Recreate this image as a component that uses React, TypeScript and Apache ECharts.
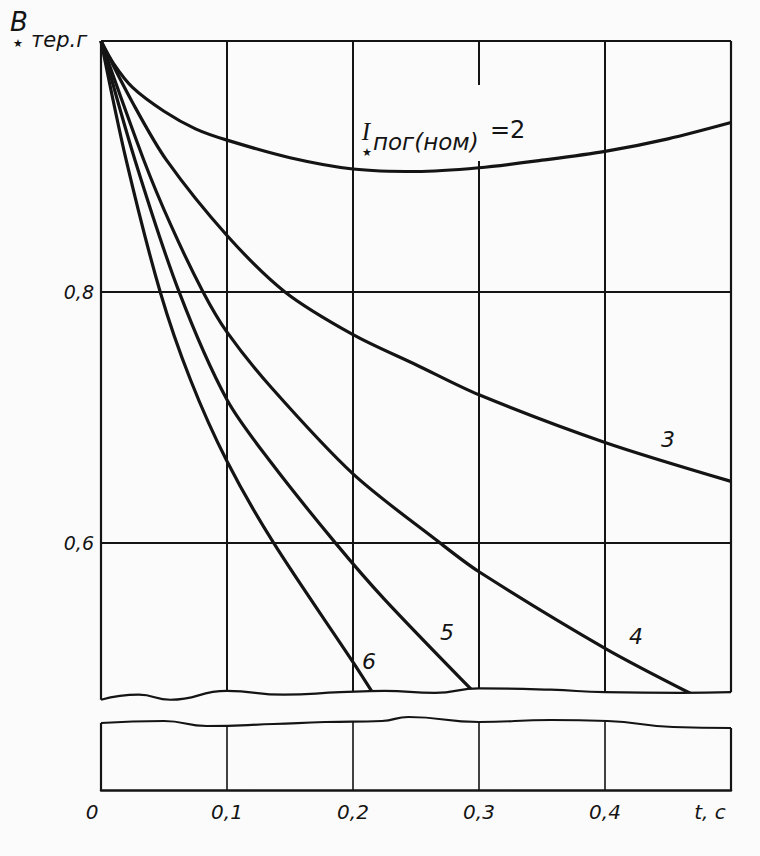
import React, { useEffect, useRef } from "react";
import * as echarts from "echarts";

const BG = "#fbfbfb";
const INK = "#141414";
const FONT = "DejaVu Sans";

// Axis ticks and labels
const X_MIN = 0;
const X_MAX = 0.5;
const X_STEP = 0.1;
const X_TICKS = [0, 0.1, 0.2, 0.3, 0.4, 0.5];
const X_LABELS = ["0", "0,1", "0,2", "0,3", "0,4", "t, c"];
const Y_TICKS = [0.6, 0.8];
const Y_LABELS = ["0,6", "0,8"];
const H_GRID = [0.6, 0.8, 1.0];
const Y_UP_MIN = 0.47;
const Y_UP_MAX = 1.0;
const Y_LOW_MIN = 0;
const Y_LOW_MAX = 0.06;

// Curve 2 : I*пог(ном) = 2
const t2 = [0, 0.01, 0.025, 0.05, 0.075, 0.1, 0.15, 0.2, 0.25, 0.3, 0.35, 0.4, 0.45, 0.5];
const b2 = [1.0, 0.982, 0.963, 0.944, 0.93, 0.921, 0.907, 0.898, 0.896, 0.899, 0.905, 0.912, 0.922, 0.935];
// Curve 3
const t3 = [0, 0.025, 0.052, 0.1, 0.146, 0.2, 0.25, 0.3, 0.4, 0.5];
const b3 = [1.0, 0.951, 0.905, 0.845, 0.8, 0.766, 0.742, 0.718, 0.68, 0.649];
// Curve 4
const t4 = [0, 0.034, 0.056, 0.081, 0.1, 0.135, 0.2, 0.269, 0.3, 0.4, 0.468];
const b4 = [1.0, 0.905, 0.852, 0.8, 0.768, 0.724, 0.655, 0.6, 0.577, 0.516, 0.48];
// Curve 5
const t5 = [0, 0.027, 0.062, 0.1, 0.135, 0.186, 0.225, 0.297];
const b5 = [1.0, 0.905, 0.8, 0.714, 0.664, 0.6, 0.555, 0.48];
// Curve 6
const t6 = [0, 0.02, 0.047, 0.071, 0.1, 0.137, 0.2, 0.216];
const b6 = [1.0, 0.905, 0.8, 0.73, 0.665, 0.6, 0.505, 0.48];

// Break lines (wavy edges of the axis break)
const waveUpT = [0, 0.03, 0.055, 0.1, 0.145, 0.19, 0.225, 0.265, 0.3, 0.357, 0.4, 0.46, 0.5];
const waveUpB = [0.475, 0.479, 0.475, 0.482, 0.479, 0.481, 0.482, 0.4805, 0.484, 0.483, 0.481, 0.4805, 0.481];
const waveLowT = [0, 0.05, 0.084, 0.137, 0.178, 0.223, 0.244, 0.3, 0.357, 0.402, 0.454, 0.5];
const waveLowB = [0.0536, 0.0552, 0.0512, 0.0528, 0.0544, 0.0552, 0.0584, 0.0544, 0.056, 0.0552, 0.0504, 0.0496];

const CURVES = [
  { name: "2", t: t2, b: b2 },
  { name: "3", t: t3, b: b3 },
  { name: "4", t: t4, b: b4 },
  { name: "5", t: t5, b: b5 },
  { name: "6", t: t6, b: b6 },
];

const pairs = (t: number[], b: number[]) => t.map((x, i) => [x, b[i]]);
const last = (a: number[]) => a[a.length - 1];

const labelStyle = (size: number) => ({
  fontFamily: FONT,
  fontStyle: "italic" as const,
  fontSize: size,
  color: INK,
});

const borderSeries = (name: string, idx: number, data: number[][]) => ({
  name,
  type: "line",
  xAxisIndex: idx,
  yAxisIndex: idx,
  data,
  symbol: "none",
  silent: true,
  lineStyle: { color: INK, width: 2.2 },
  z: 3,
});

function buildOption() {
  const curveSeries = CURVES.map((c) => ({
    name: c.name,
    type: "line",
    xAxisIndex: 0,
    yAxisIndex: 0,
    data: pairs(c.t, c.b),
    smooth: 0.3,
    showSymbol: false,
    symbol: "none",
    lineStyle: { color: INK, width: 3.2 },
    z: 2,
    silent: true,
  }));

  return {
    animation: false,
    backgroundColor: BG,
    grid: [
      { left: 101, width: 630, top: 41, height: 665 },
      { left: 101, width: 630, top: 715, height: 75 },
    ],
    xAxis: [
      {
        type: "value",
        gridIndex: 0,
        min: X_MIN,
        max: X_MAX,
        interval: X_STEP,
        axisLine: { show: false },
        axisTick: { show: false },
        axisLabel: { show: false },
        splitLine: { show: true, showMinLine: false, showMaxLine: false, lineStyle: { color: INK, width: 2 } },
      },
      {
        type: "value",
        gridIndex: 1,
        min: X_MIN,
        max: X_MAX,
        interval: X_STEP,
        axisLine: { show: true, onZero: false, lineStyle: { color: INK, width: 2.5 } },
        axisTick: { show: false },
        splitLine: { show: true, showMinLine: false, showMaxLine: false, lineStyle: { color: INK, width: 1.6 } },
        axisLabel: {
          show: true,
          margin: 12,
          showMinLabel: true,
          showMaxLabel: true,
          formatter: (v: number) => {
            const i = X_TICKS.findIndex((t) => Math.abs(t - v) < 1e-9);
            if (i < 0) return "";
            const s = X_LABELS[i];
            if (i === 0) return `{zero|${s}}`;
            if (i === X_TICKS.length - 1) return `{tc|${s}}`;
            return `{n|${s}}`;
          },
          rich: {
            n: { ...labelStyle(20) },
            zero: { ...labelStyle(20), padding: [0, 18, 0, 0] },
            tc: { ...labelStyle(20), padding: [0, 42, 0, 0] },
          },
        },
      },
    ],
    yAxis: [
      {
        type: "value",
        gridIndex: 0,
        min: Y_UP_MIN,
        max: Y_UP_MAX,
        axisLine: { show: false },
        axisTick: { show: false },
        splitLine: { show: false },
        axisLabel: {
          show: true,
          margin: 7,
          customValues: Y_TICKS,
          formatter: (v: number) => {
            const i = Y_TICKS.findIndex((t) => Math.abs(t - v) < 1e-9);
            return i < 0 ? "" : Y_LABELS[i];
          },
          ...labelStyle(19),
        },
      },
      {
        type: "value",
        gridIndex: 1,
        min: Y_LOW_MIN,
        max: Y_LOW_MAX,
        axisLine: { show: false },
        axisTick: { show: false },
        axisLabel: { show: false },
        splitLine: { show: false },
      },
    ],
    series: [
      ...curveSeries,
      {
        name: "breakUpper",
        type: "line",
        xAxisIndex: 0,
        yAxisIndex: 0,
        data: pairs(waveUpT, waveUpB),
        smooth: 0.5,
        symbol: "none",
        silent: true,
        lineStyle: { color: INK, width: 2.2 },
        areaStyle: { color: BG, opacity: 1, origin: "start" },
        z: 3,
        markLine: {
          silent: true,
          symbol: ["none", "none"],
          label: { show: false },
          lineStyle: { color: INK, width: 2, type: "solid" },
          data: H_GRID.map((y) => ({ yAxis: y })),
        },
      },
      {
        name: "breakLower",
        type: "line",
        xAxisIndex: 1,
        yAxisIndex: 1,
        data: pairs(waveLowT, waveLowB),
        smooth: 0.5,
        symbol: "none",
        silent: true,
        lineStyle: { color: INK, width: 2.2 },
        areaStyle: { color: BG, opacity: 1, origin: "end" },
        z: 3,
      },
      borderSeries("leftUpper", 0, [[X_MIN, waveUpB[0]], [X_MIN, Y_UP_MAX]]),
      borderSeries("rightUpper", 0, [[X_MAX, last(waveUpB)], [X_MAX, Y_UP_MAX]]),
      borderSeries("leftLower", 1, [[X_MIN, Y_LOW_MIN], [X_MIN, waveLowB[0]]]),
      borderSeries("rightLower", 1, [[X_MAX, Y_LOW_MIN], [X_MAX, last(waveLowB)]]),
    ],
    graphic: [
      { type: "rect", shape: { x: 472, y: 85, width: 14, height: 76 }, style: { fill: BG }, z: 50 },
      // Y axis title: B* тер.г
      { type: "text", x: 19, y: 22, z: 60, style: { text: "B", fill: INK, font: `italic 26px "${FONT}"`, align: "center", verticalAlign: "middle" } },
      { type: "text", x: 18, y: 43, z: 60, style: { text: "★", fill: INK, font: `11px "${FONT}"`, align: "center", verticalAlign: "middle" } },
      { type: "text", x: 31, y: 40, z: 60, style: { text: "тер.г", fill: INK, font: `italic 21px "${FONT}"`, align: "left", verticalAlign: "middle" } },
      // Curve family label: I*пог(ном) = 2
      { type: "text", x: 366, y: 131, z: 60, style: { text: "I", fill: INK, font: `italic 25px "Liberation Serif"`, align: "center", verticalAlign: "middle" } },
      { type: "text", x: 367, y: 152, z: 60, style: { text: "★", fill: INK, font: `11px "${FONT}"`, align: "center", verticalAlign: "middle" } },
      { type: "text", x: 373, y: 142, z: 60, style: { text: "пог(ном)", fill: INK, font: `italic 23px "${FONT}"`, align: "left", verticalAlign: "middle" } },
      { type: "text", x: 490, y: 130, z: 60, style: { text: "=2", fill: INK, font: `24px "${FONT}"`, align: "left", verticalAlign: "middle" } },
      // Curve numbers
      { type: "text", x: 668, y: 439, z: 60, style: { text: "3", fill: INK, font: `italic 22px "${FONT}"`, align: "center", verticalAlign: "middle" } },
      { type: "text", x: 636, y: 636, z: 60, style: { text: "4", fill: INK, font: `italic 22px "${FONT}"`, align: "center", verticalAlign: "middle" } },
      { type: "text", x: 447, y: 632, z: 60, style: { text: "5", fill: INK, font: `italic 22px "${FONT}"`, align: "center", verticalAlign: "middle" } },
      { type: "text", x: 369, y: 661, z: 60, style: { text: "6", fill: INK, font: `italic 22px "${FONT}"`, align: "center", verticalAlign: "middle" } },
    ],
  };
}

export default function App() {
  const ref = useRef<HTMLDivElement>(null);
  useEffect(() => {
    if (!ref.current) return;
    const chart = echarts.init(ref.current, null, { renderer: "svg" });
    chart.setOption(buildOption() as any);
    return () => {
      chart.dispose();
    };
  }, []);
  return (
    <div
      ref={ref}
      style={{ position: "fixed", left: 0, top: 0, width: 760, height: 856, background: BG }}
    />
  );
}
